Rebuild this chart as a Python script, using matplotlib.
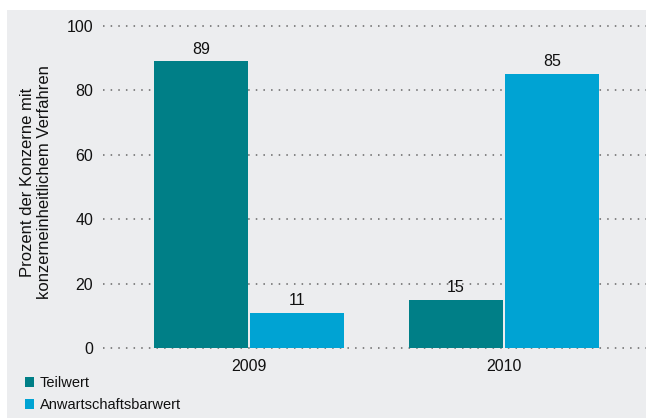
import matplotlib
matplotlib.use("Agg")
import matplotlib.pyplot as plt
from matplotlib.patches import Rectangle

years = ["2009", "2010"]
series_names = ["Teilwert", "Anwartschaftsbarwert"]
teilwert = [89, 15]
anwartschaft = [11, 85]
yticks = [0, 20, 40, 60, 80, 100]

c_teal = "#007F87"
c_blue = "#00A3D3"
bg = "#ECEDEF"
txt = "#111111"

plt.rcParams['font.family'] = ['Liberation Sans', 'DejaVu Sans']

fig = plt.figure(figsize=(6.46, 4.18), dpi=100)
fig.patch.set_facecolor("white")
fig.patches.append(Rectangle((7/646, 0), 1, 1 - 10/418, transform=fig.transFigure,
                             facecolor=bg, edgecolor="none", zorder=-10))

W, H = 646, 418
ax = fig.add_axes([103/W, (H-348)/H, (646-103)/W, (348-26)/H])
ax.set_facecolor("none")

x = [0, 1]
bw = 0.37
b1 = ax.bar([xi - bw/2 - 0.004 for xi in x], teilwert, width=bw, color=c_teal,
            edgecolor="none", zorder=3, label=series_names[0])
b2 = ax.bar([xi + bw/2 + 0.004 for xi in x], anwartschaft, width=bw, color=c_blue,
            edgecolor="none", zorder=3, label=series_names[1])
for bars in (b1, b2):
    for r in bars:
        ax.text(r.get_x() + r.get_width()/2, r.get_height() + 1.5, f"{int(r.get_height())}",
                ha="center", va="bottom", fontsize=11.5, color=txt)

ax.set_xlim(-0.573, 1.557)
ax.set_ylim(0, 100)
ax.set_yticks(yticks)
ax.set_xticks(x)
ax.set_xticklabels(years)
ax.tick_params(axis="both", length=0, labelsize=11.5, colors=txt)
ax.tick_params(axis="y", pad=7)
ax.tick_params(axis="x", pad=8)
ax.yaxis.grid(True, linestyle=(0, (1, 4)), color="#666666", linewidth=1.1, zorder=0)
for gl in ax.get_ygridlines():
    gl.set_clip_on(False)
ax.set_axisbelow(True)
for s in ax.spines.values():
    s.set_visible(False)

fig.text(36/W, 1 - 182/H, "Prozent der Konzerne mit\nkonzerneinheitlichem Verfahren",
         rotation=90, ha="center", va="center", fontsize=12, color=txt,
         linespacing=1.15)

leg = fig.legend(handles=[b1, b2], labels=series_names, loc="upper left",
                 bbox_to_anchor=(25/W, 1 - 376/H), frameon=False, fontsize=10.5,
                 handlelength=0.65, handleheight=0.65, handletextpad=0.35,
                 labelspacing=0.55, borderpad=0, borderaxespad=0)
for t in leg.get_texts():
    t.set_color(txt)

fig.savefig("out.png", dpi=100, facecolor=fig.get_facecolor())
